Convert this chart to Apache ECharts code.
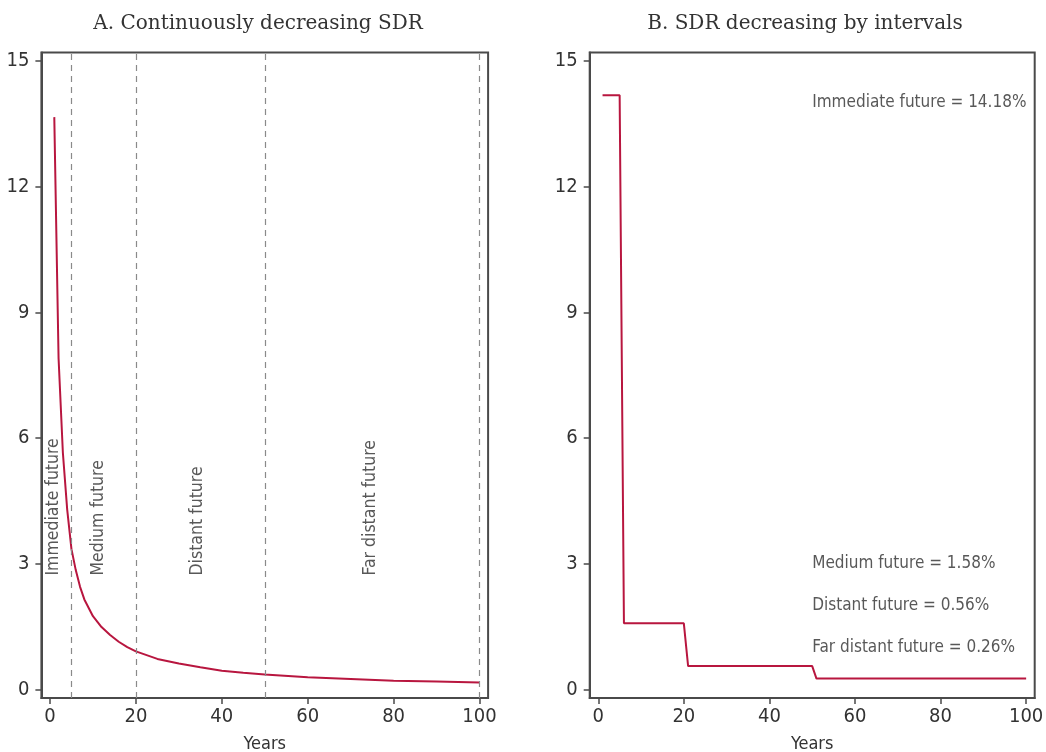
<!DOCTYPE html>
<html>
<head>
<meta charset="utf-8">
<script src="https://cdn.jsdelivr.net/npm/echarts@6/dist/echarts.min.js"></script>
<style>html,body{margin:0;padding:0;background:#fff;}#chart{width:1046px;height:752px;}</style>
</head>
<body>
<div id="chart"></div>
<script>
// Panel A: continuously decreasing SDR
const yearsA = [1, 2, 3, 4, 5, 6, 7, 8, 10, 12, 14, 16, 18, 20, 25, 30, 35, 40, 45, 50, 60, 70, 80, 90, 100];
const sdrA = [13.66, 7.9, 5.65, 4.3, 3.35, 2.85, 2.45, 2.15, 1.75, 1.49, 1.3, 1.14, 1.01, 0.91, 0.73, 0.62, 0.53, 0.45, 0.40, 0.36, 0.29, 0.25, 0.21, 0.19, 0.17];
// Panel B: SDR decreasing by intervals
const yearsB = [1, 5, 6, 20, 21, 50, 51, 100];
const sdrB = [14.18, 14.18, 1.58, 1.58, 0.56, 0.56, 0.26, 0.26];
// Horizon boundaries and labels
const horizonBounds = [5, 20, 50, 100];
const horizonLabels = ['Immediate future', 'Medium future', 'Distant future', 'Far distant future'];
const horizonLabelX = [0.9, 11.3, 34.3, 74.5];
const horizonLabelY = [2.72, 2.72, 2.72, 2.72];
const rateNotes = ['Immediate future = 14.18%', 'Medium future = 1.58%', 'Distant future = 0.56%', 'Far distant future = 0.26%'];
const rateNoteX = [50, 50, 50, 50];
const rateNoteY = [14, 3, 2, 1];
const xTicks = [0, 20, 40, 60, 80, 100];
const yTicks = [0, 3, 6, 9, 12, 15];
const titles = ['A. Continuously decreasing SDR', 'B. SDR decreasing by intervals'];

const NARROW = '"Liberation Sans Narrow", "DejaVu Sans Condensed", sans-serif';
const SERIF = '"DejaVu Serif", serif';
const LINE = '#b8163f';
const AX = '#4a4a4a';

function xAx(i) {
  return {
    type: 'value', gridIndex: i, min: -2, max: 102,
    axisLine: { show: true, onZero: false, lineStyle: { color: AX, width: 2 } },
    axisTick: { show: true, customValues: xTicks, length: 6, lineStyle: { color: AX, width: 1.5 } },
    axisLabel: { customValues: xTicks, fontFamily: NARROW, fontSize: 20, color: '#333', margin: 9 },
    splitLine: { show: false },
    name: 'Years', nameLocation: 'middle', nameGap: 37,
    nameTextStyle: { fontFamily: NARROW, fontSize: 18, color: '#333' }
  };
}
function yAx(i) {
  return {
    type: 'value', gridIndex: i, min: -0.2, max: 15.2,
    axisLine: { show: true, onZero: false, lineStyle: { color: AX, width: 2 } },
    axisTick: { show: true, customValues: yTicks, length: 6, lineStyle: { color: AX, width: 1.5 } },
    axisLabel: { customValues: yTicks, fontFamily: NARROW, fontSize: 20, color: '#333', margin: 12 },
    splitLine: { show: false }
  };
}

const chart = echarts.init(document.getElementById('chart'), null, { renderer: 'canvas' });
chart.setOption({
  animation: false,
  backgroundColor: '#fff',
  title: [
    { text: titles[0], left: 253, top: 9, textAlign: 'center', textStyle: { fontFamily: SERIF, fontWeight: 'normal', fontSize: 20, color: '#333' } },
    { text: titles[1], left: 800, top: 9, textAlign: 'center', textStyle: { fontFamily: SERIF, fontWeight: 'normal', fontSize: 20, color: '#333' } }
  ],
  grid: [
    { left: 41.4, top: 52.6, width: 446.7, height: 645.3, show: true, borderColor: AX, borderWidth: 2, containLabel: false, outerBoundsMode: 'none' },
    { left: 589.7, top: 52.6, width: 445, height: 645.3, show: true, borderColor: AX, borderWidth: 2, containLabel: false, outerBoundsMode: 'none' }
  ],
  xAxis: [xAx(0), xAx(1)],
  yAxis: [yAx(0), yAx(1)],
  series: [
    {
      type: 'line', xAxisIndex: 0, yAxisIndex: 0, symbol: 'none',
      data: yearsA.map((x, k) => [x, sdrA[k]]),
      lineStyle: { color: LINE, width: 2 },
      markLine: {
        silent: true, symbol: 'none', label: { show: false },
        lineStyle: { color: '#8a8a8a', width: 1.2, type: [6, 5] },
        data: horizonBounds.map(v => ({ xAxis: v }))
      }
    },
    {
      type: 'scatter', xAxisIndex: 0, yAxisIndex: 0, symbolSize: 0, silent: true,
      data: horizonLabelX.map((x, k) => ({ value: [x, horizonLabelY[k]], name: horizonLabels[k] })),
      label: {
        show: true, position: 'inside', rotate: 90, align: 'left', verticalAlign: 'middle',
        formatter: p => p.name, fontFamily: NARROW, fontSize: 17.5, color: '#2e2e2e'
      }
    },
    {
      type: 'line', xAxisIndex: 1, yAxisIndex: 1, symbol: 'none',
      data: yearsB.map((x, k) => [x, sdrB[k]]),
      lineStyle: { color: LINE, width: 2 }
    },
    {
      type: 'scatter', xAxisIndex: 1, yAxisIndex: 1, symbolSize: 0, silent: true,
      data: rateNoteX.map((x, k) => ({ value: [x, rateNoteY[k]], name: rateNotes[k] })),
      label: {
        show: true, position: 'inside', align: 'left', verticalAlign: 'middle',
        formatter: p => p.name, fontFamily: NARROW, fontSize: 17, color: '#2e2e2e'
      }
    }
  ]
});
</script>
</body>
</html>
